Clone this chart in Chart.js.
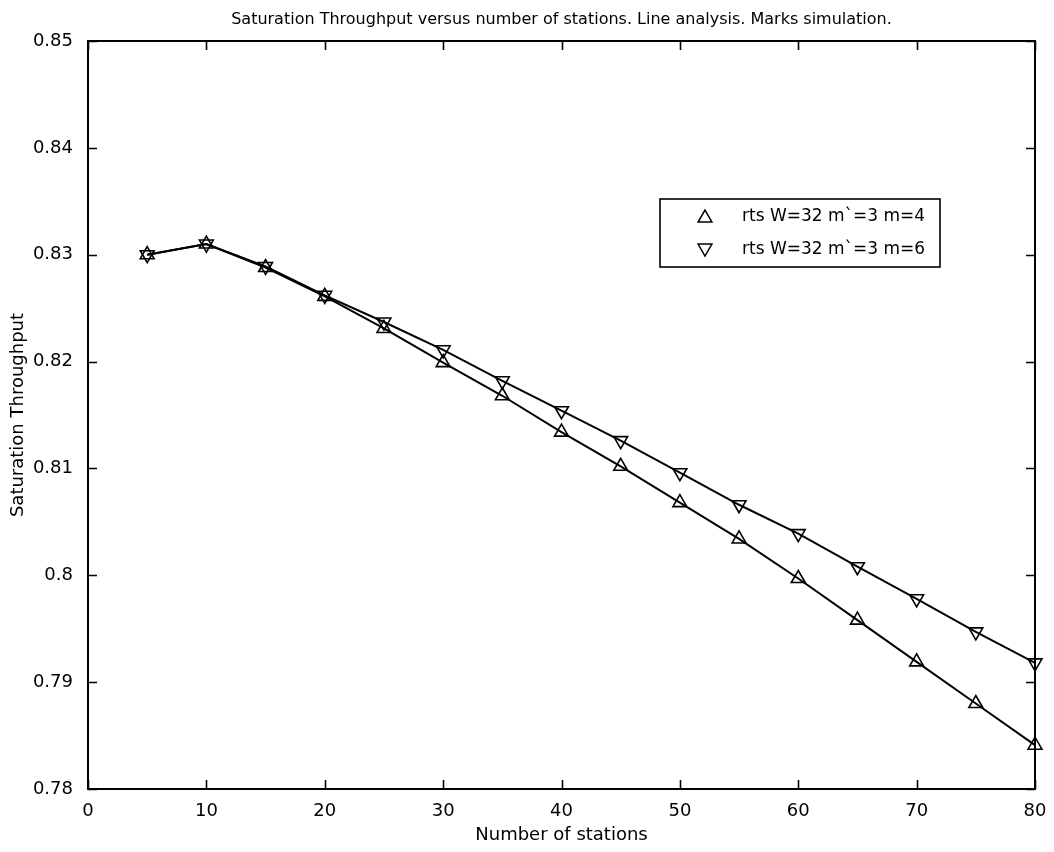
<!DOCTYPE html>
<html>
<head>
<meta charset="utf-8">
<script src="https://cdn.jsdelivr.net/npm/chart.js@4/dist/chart.umd.min.js"></script>
<style>
  html, body { margin: 0; padding: 0; background: #fff; }
  canvas { display: block; }
</style>
</head>
<body>
<canvas id="c" width="1054" height="852"></canvas>
<script>
const chartTitle = "Saturation Throughput versus number of stations. Line analysis. Marks simulation.";
const xTitle = "Number of stations";
const yTitle = "Saturation Throughput";

const stations = [5, 10, 15, 20, 25, 30, 35, 40, 45, 50, 55, 60, 65, 70, 75, 80];
const seriesM4 = [0.8300, 0.8310, 0.8288, 0.8261, 0.8231, 0.8199, 0.8168, 0.8134, 0.8102, 0.8068, 0.8034, 0.7997, 0.7958, 0.7919, 0.7880, 0.7841];
const seriesM6 = [0.8300, 0.8310, 0.8289, 0.8262, 0.8237, 0.8211, 0.8182, 0.8154, 0.8126, 0.8096, 0.8066, 0.8039, 0.8008, 0.7978, 0.7947, 0.7918];
const labelM4 = "rts W=32 m`=3 m=4";
const labelM6 = "rts W=32 m`=3 m=6";

const xTickValues = [0, 10, 20, 30, 40, 50, 60, 70, 80];
const yTickValues = [0.78, 0.79, 0.80, 0.81, 0.82, 0.83, 0.84, 0.85];
const yTickLabels = ["0.78", "0.79", "0.8", "0.81", "0.82", "0.83", "0.84", "0.85"];
const xTickLabels = ["0", "10", "20", "30", "40", "50", "60", "70", "80"];

const FONT = "'DejaVu Sans', 'Liberation Sans', Arial, sans-serif";

const framePlugin = {
  id: 'frame',
  afterDraw(chart) {
    const ctx = chart.ctx;
    const a = chart.chartArea;
    const xs = chart.scales.x, ys = chart.scales.y;
    ctx.save();
    ctx.strokeStyle = '#000';
    ctx.lineWidth = 1.6;
    // inward ticks
    const tl = 9;
    ctx.beginPath();
    xTickValues.forEach(v => {
      const px = Math.round(xs.getPixelForValue(v)) + 0.5;
      ctx.moveTo(px, a.bottom); ctx.lineTo(px, a.bottom - tl);
      ctx.moveTo(px, a.top); ctx.lineTo(px, a.top + tl);
    });
    yTickValues.forEach(v => {
      const py = Math.round(ys.getPixelForValue(v)) + 0.5;
      ctx.moveTo(a.left, py); ctx.lineTo(a.left + tl, py);
      ctx.moveTo(a.right, py); ctx.lineTo(a.right - tl, py);
    });
    ctx.stroke();
    // box
    ctx.lineWidth = 2;
    ctx.strokeRect(a.left, a.top, a.right - a.left, a.bottom - a.top);

    // title
    ctx.fillStyle = '#000';
    ctx.textAlign = 'center';
    ctx.textBaseline = 'alphabetic';
    ctx.font = "16px " + FONT;
    ctx.fillText(chartTitle, (a.left + a.right) / 2, 24);
    // x title
    ctx.font = "18px " + FONT;
    ctx.fillText(xTitle, (a.left + a.right) / 2, 840);
    // y title
    ctx.save();
    ctx.translate(23, (a.top + a.bottom) / 2);
    ctx.rotate(-Math.PI / 2);
    ctx.fillText(yTitle, 0, 0);
    ctx.restore();

    // legend
    const bx = 660, by = 199, bw = 280, bh = 68;
    ctx.fillStyle = '#fff';
    ctx.fillRect(bx, by, bw, bh);
    ctx.lineWidth = 1.6;
    ctx.strokeStyle = '#000';
    ctx.strokeRect(bx, by, bw, bh);
    const rows = [216.5, 249.5];
    chart.data.datasets.forEach((ds, i) => {
      const y = rows[i];
      ctx.fillStyle = 'rgba(0,0,0,0)';
      ctx.strokeStyle = '#000';
      ctx.lineWidth = 1.5;
      Chart.helpers.drawPoint(ctx, {
        pointStyle: 'triangle', radius: 8, rotation: ds.pointRotation || 0,
        borderWidth: 1.5
      }, 705, y + (ds.pointRotation ? -1.5 : 1.5));
      ctx.fillStyle = '#000';
      ctx.textAlign = 'left';
      ctx.textBaseline = 'middle';
      ctx.font = "17px " + FONT;
      ctx.fillText(ds.label, 742, y);
    });
    ctx.restore();
  }
};

new Chart(document.getElementById('c'), {
  type: 'line',
  data: {
    labels: stations,
    datasets: [
      {
        label: labelM4,
        data: stations.map((x, i) => ({ x: x, y: seriesM4[i] })),
        borderColor: '#000', borderWidth: 2,
        pointStyle: 'triangle', pointRadius: 8, pointRotation: 0,
        pointBorderColor: '#000', pointBackgroundColor: 'rgba(0,0,0,0)', pointBorderWidth: 1.6,
        tension: 0, clip: false, fill: false
      },
      {
        label: labelM6,
        data: stations.map((x, i) => ({ x: x, y: seriesM6[i] })),
        borderColor: '#000', borderWidth: 2,
        pointStyle: 'triangle', pointRadius: 8, pointRotation: 180,
        pointBorderColor: '#000', pointBackgroundColor: 'rgba(0,0,0,0)', pointBorderWidth: 1.6,
        tension: 0, clip: false, fill: false
      }
    ]
  },
  options: {
    responsive: false,
    animation: false,
    devicePixelRatio: 1,
    layout: { padding: { top: 41, right: 19, left: 0, bottom: 0 } },
    plugins: { legend: { display: false }, title: { display: false }, tooltip: { enabled: false } },
    scales: {
      x: {
        type: 'linear', min: 0, max: 80,
        grid: { display: false }, border: { display: false },
        afterBuildTicks: s => { s.ticks = xTickValues.map(v => ({ value: v })); },
        afterFit: s => { s.height = 63; },
        ticks: {
          color: '#000', padding: 4, maxRotation: 0, autoSkip: false,
          font: { family: FONT, size: 18 },
          callback: (v) => xTickLabels[xTickValues.indexOf(v)]
        }
      },
      y: {
        type: 'linear', min: 0.78, max: 0.85,
        grid: { display: false }, border: { display: false },
        afterBuildTicks: s => { s.ticks = yTickValues.map(v => ({ value: v })); },
        afterFit: s => { s.width = 88; },
        ticks: {
          color: '#000', padding: 7, autoSkip: false,
          font: { family: FONT, size: 18 },
          callback: (v) => {
            const i = yTickValues.findIndex(t => Math.abs(t - v) < 1e-9);
            return yTickLabels[i];
          }
        }
      }
    }
  },
  plugins: [framePlugin]
});
</script>
</body>
</html>
